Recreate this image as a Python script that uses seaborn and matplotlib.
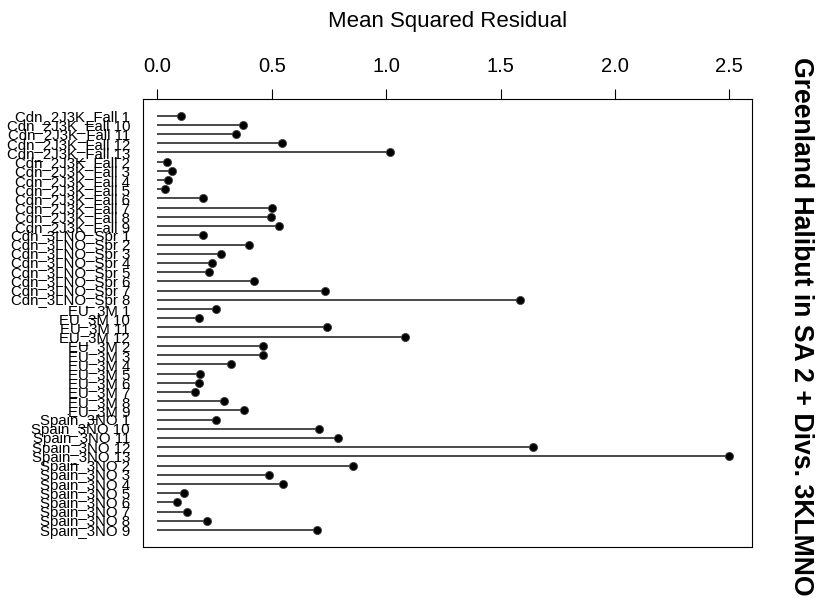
import numpy as np
import pandas as pd
import seaborn as sns
import matplotlib
matplotlib.use("Agg")
import matplotlib.pyplot as plt

# survey series, in the order shown top to bottom
surveys = [
    "Cdn_2J3K_Fall 1", "Cdn_2J3K_Fall 10", "Cdn_2J3K_Fall 11", "Cdn_2J3K_Fall 12",
    "Cdn_2J3K_Fall 13", "Cdn_2J3K_Fall 2", "Cdn_2J3K_Fall 3", "Cdn_2J3K_Fall 4",
    "Cdn_2J3K_Fall 5", "Cdn_2J3K_Fall 6", "Cdn_2J3K_Fall 7", "Cdn_2J3K_Fall 8",
    "Cdn_2J3K_Fall 9",
    "Cdn_3LNO_Spr 1", "Cdn_3LNO_Spr 2", "Cdn_3LNO_Spr 3", "Cdn_3LNO_Spr 4",
    "Cdn_3LNO_Spr 5", "Cdn_3LNO_Spr 6", "Cdn_3LNO_Spr 7", "Cdn_3LNO_Spr 8",
    "EU_3M 1", "EU_3M 10", "EU_3M 11", "EU_3M 12", "EU_3M 2", "EU_3M 3",
    "EU_3M 4", "EU_3M 5", "EU_3M 6", "EU_3M 7", "EU_3M 8", "EU_3M 9",
    "Spain_3NO 1", "Spain_3NO 10", "Spain_3NO 11", "Spain_3NO 12", "Spain_3NO 13",
    "Spain_3NO 2", "Spain_3NO 3", "Spain_3NO 4", "Spain_3NO 5", "Spain_3NO 6",
    "Spain_3NO 7", "Spain_3NO 8", "Spain_3NO 9",
]

# mean squared residual per series
msr = [
    0.104, 0.373, 0.344, 0.544, 1.018, 0.041, 0.066, 0.048, 0.035, 0.201,
    0.501, 0.496, 0.531,
    0.201, 0.401, 0.277, 0.238, 0.226, 0.423, 0.732, 1.584,
    0.257, 0.184, 0.740, 1.084, 0.463, 0.463, 0.323, 0.188, 0.182, 0.163,
    0.292, 0.380,
    0.257, 0.707, 0.791, 1.642, 2.500, 0.854, 0.490, 0.548, 0.117, 0.087,
    0.128, 0.216, 0.699,
]

x_ticks = [0.0, 0.5, 1.0, 1.5, 2.0, 2.5]

df = pd.DataFrame({"survey": surveys, "msr": msr})
df["pos"] = np.arange(len(df))

sns.set_style("white")
plt.rcParams["font.family"] = ["Liberation Sans", "DejaVu Sans"]
plt.rcParams["text.color"] = "black"
plt.rcParams["xtick.color"] = "black"
plt.rcParams["ytick.color"] = "black"

W, H = 817, 598
fig = plt.figure(figsize=(W / 100, H / 100), dpi=100)
left, right, top, bottom = 142.7, 752.3, 99.0, 546.7
ax = fig.add_axes([left / W, 1 - bottom / H, (right - left) / W, (bottom - top) / H])

# lollipop stems
ax.hlines(y=df["pos"], xmin=0, xmax=df["msr"], color="#2a2a2a", linewidth=1.2, zorder=1)
sns.scatterplot(data=df, x="msr", y="pos", ax=ax, color="black", s=34,
                edgecolor="#444444", linewidth=0.6, zorder=2, legend=False)

n = len(df)
ax.set_ylim(n - 1 + 1.8, -1.8)
ax.set_xlim(-0.064, 2.60)

ax.xaxis.tick_top()
ax.set_xticks(x_ticks)
ax.set_xticklabels([f"{t:.1f}" for t in x_ticks])
ax.tick_params(axis="x", length=7.2, width=0.8, pad=9, labelsize=14.5)
ax.set_yticks(df["pos"])
ax.set_yticklabels(df["survey"])
ax.tick_params(axis="y", length=0, pad=9.1, labelsize=10.8)
ax.set_xlabel("")
ax.set_ylabel("")

for s in ax.spines.values():
    s.set_visible(True)
    s.set_color("black")
    s.set_linewidth(0.8)

fig.text(447.5 / W, 1 - 21 / H, "Mean Squared Residual", fontsize=16,
         ha="center", va="center")
fig.text(801 / W, 1 - 326 / H, "Greenland Halibut in SA 2 + Divs. 3KLMNO",
         fontsize=19.2, fontweight="bold", rotation=270, ha="center", va="center")

fig.savefig("out.png", dpi=100)
